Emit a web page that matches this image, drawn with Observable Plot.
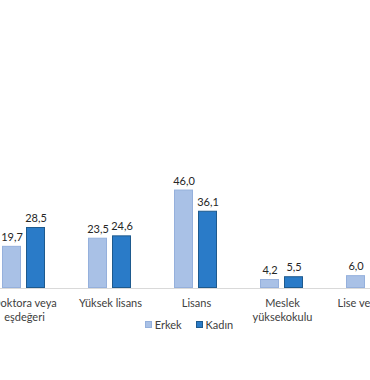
<!DOCTYPE html>
<html>
<head>
<meta charset="utf-8">
<script src="https://cdn.jsdelivr.net/npm/d3@7"></script>
<script src="https://cdn.jsdelivr.net/npm/@observablehq/plot@0.6"></script>
<style>
  html, body { margin: 0; padding: 0; background: #fff; overflow: hidden; width: 370px; height: 380px; }
  #chart { position: absolute; left: -19px; top: 0; width: 430px; }
  #chart svg { max-width: none !important; }
  #legend { position: absolute; top: 318px; left: 0; width: 378px; display: flex; justify-content: center; gap: 14px;
            font-family: Lato, "Liberation Sans", sans-serif; font-size: 11px; color: #404040; }
  #legend span.item { display: flex; align-items: center; gap: 3px; }
  #legend span.sw { display: inline-block; width: 7px; height: 7px; box-sizing: border-box; }
</style>
</head>
<body>
<div id="chart"></div>
<div id="legend"></div>
<script>
const categories = ["Doktora veya eşdeğeri", "Yüksek lisans", "Lisans", "Meslek yüksekokulu", "Lise ve dengi"];
const categoryLabels = ["Doktora veya\neşdeğeri", "Yüksek lisans", "Lisans", "Meslek\nyüksekokulu", "Lise ve dengi"];
const series = ["Erkek", "Kadın"];
const erkek = [19.7, 23.5, 46.0, 4.2, 6.0];
const kadin = [28.5, 24.6, 36.1, 5.5, null];
const fills = ["#a9c1e6", "#2a7bc8"];
const strokes = ["#95b0dc", "#1e5a8e"];

const rows = [];
categories.forEach((c, i) => {
  rows.push({cat: c, sex: series[0], value: erkek[i]});
  rows.push({cat: c, sex: series[1], value: kadin[i]});
});
const labelOf = new Map(categories.map((c, i) => [c, categoryLabels[i]]));
const fmt = v => d3.format(".1f")(v).replace(".", ",");

const marks = [
  Plot.ruleY([0], {stroke: "#d9d9d9"}),
  Plot.axisFx({anchor: "bottom", label: null, tickSize: 0, tickPadding: 8, lineHeight: 1.3, fill: "#404040",
               tickFormat: c => labelOf.get(c)})
];
series.forEach((s, k) => {
  const data = rows.filter(d => d.sex === s && d.value != null);
  marks.push(Plot.barY(data, {fx: "cat", x: "sex", y: "value", fill: fills[k], stroke: strokes[k], strokeWidth: 1, inset: 0.5}));
  marks.push(Plot.text(data, {fx: "cat", x: "sex", y: "value", text: d => fmt(d.value), dy: -9, fill: "#262626", fontSize: 11}));
});

const chart = Plot.plot({
  width: 430,
  height: 340,
  marginTop: 181,
  marginBottom: 52,
  marginLeft: 0,
  marginRight: 0,
  style: {fontFamily: "Lato, 'Liberation Sans', sans-serif", fontSize: "11px", color: "#404040", background: "#fff", maxWidth: "none"},
  fx: {domain: categories, padding: 0},
  x: {domain: series, paddingInner: 0.2, paddingOuter: 0.86, axis: null},
  y: {domain: [0, 50], axis: null},
  marks
});
document.getElementById("chart").appendChild(chart);

const legend = document.getElementById("legend");
series.forEach((s, k) => {
  const item = document.createElement("span");
  item.className = "item";
  const sw = document.createElement("span");
  sw.className = "sw";
  sw.style.background = fills[k];
  sw.style.border = "0.5px solid " + strokes[k];
  item.appendChild(sw);
  item.appendChild(document.createTextNode(s));
  legend.appendChild(item);
});
</script>
</body>
</html>
